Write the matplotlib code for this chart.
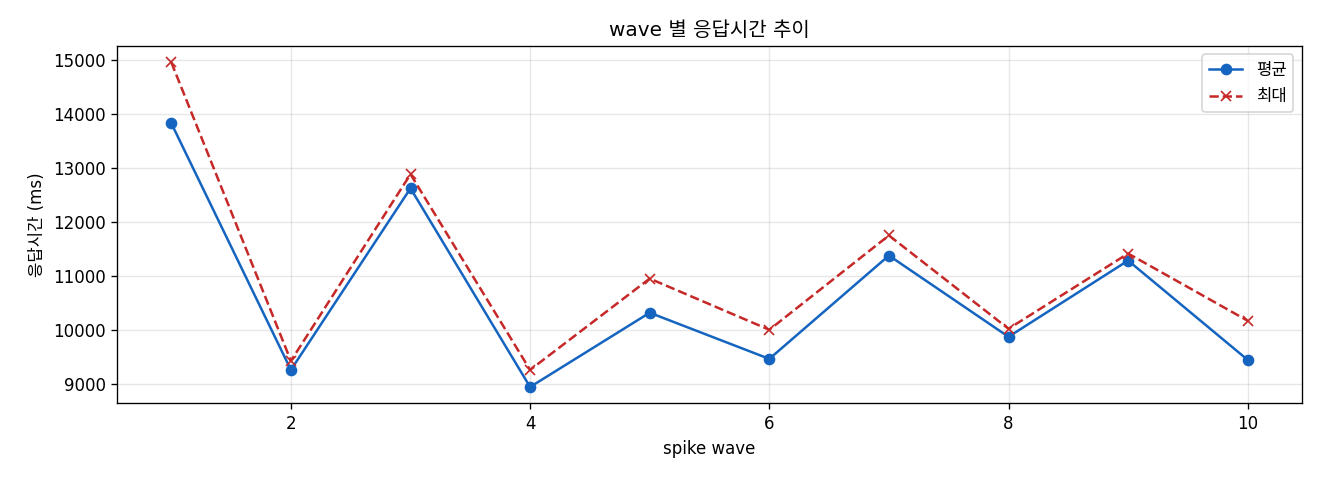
import numpy as np
import matplotlib
matplotlib.use("Agg")
import matplotlib.pyplot as plt

plt.rcParams['font.family'] = ['DejaVu Sans', 'Noto Sans CJK KR']

waves = [1, 2, 3, 4, 5, 6, 7, 8, 9, 10]
avg_ms = [13827, 9259, 12622, 8943, 10318, 9463, 11377, 9872, 11284, 9444]
max_ms = [14955, 9426, 12882, 9259, 10950, 10002, 11749, 10021, 11414, 10169]

fig, ax = plt.subplots(figsize=(11, 4), dpi=120)
ax.plot(waves, avg_ms, marker='o', color='#1565C0', label='평균')
ax.plot(waves, max_ms, marker='x', linestyle='--', color='#C62828', label='최대')

ax.set_title("wave 별 응답시간 추이")
ax.set_xlabel("spike wave")
ax.set_ylabel("응답시간 (ms)")
ax.grid(True, alpha=0.3)
ax.legend()

plt.subplots_adjust(left=0.089, right=0.986, top=0.904, bottom=0.16)
plt.savefig("out.png", dpi=120)
